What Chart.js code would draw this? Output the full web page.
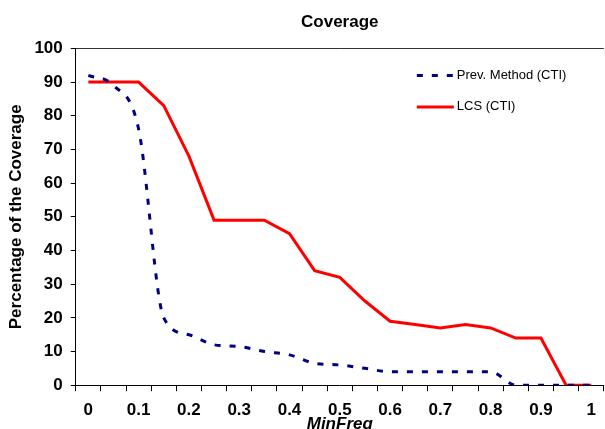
<!DOCTYPE html>
<html>
<head>
<meta charset="utf-8">
<script src="https://cdn.jsdelivr.net/npm/chart.js@4"></script>
<style>
  body { margin: 0; background: #fff; }
  #wrap { width: 605px; height: 429px; }
</style>
</head>
<body>
<div id="wrap"><canvas id="coverageChart" width="605" height="429"></canvas></div>
<script>
// MinFreq steps 0 .. 1 by 0.05
const categories = ["0", "0.05", "0.1", "0.15", "0.2", "0.25", "0.3", "0.35", "0.4", "0.45", "0.5",
  "0.55", "0.6", "0.65", "0.7", "0.75", "0.8", "0.85", "0.9", "0.95", "1"];
const xTickLabels = ["0", "0.1", "0.2", "0.3", "0.4", "0.5", "0.6", "0.7", "0.8", "0.9", "1"];
const prevMethod = [92, 89, 76, 20, 15, 12, 11.5, 10, 9, 6.5, 6, 5, 4, 4, 4, 4, 4, 0, 0, 0, 0];
const lcs = [90, 90, 90, 83, 68, 49, 49, 49, 45, 34, 32, 25, 19, 18, 17, 18, 17, 14, 14, 0, 0];

const FONT = "'Liberation Sans', Arial, sans-serif";

// legend drawn inside the plot, top right
const innerLegend = {
  id: "innerLegend",
  afterDatasetsDraw(chart) {
    const c = chart.ctx;
    const a = chart.chartArea;
    const x0 = a.right - 187;
    const rows = [a.top + 27, a.top + 58.5];
    c.save();
    c.font = "13px " + FONT;
    c.textBaseline = "middle";
    chart.data.datasets.forEach((ds, i) => {
      c.strokeStyle = ds.borderColor;
      c.lineWidth = ds.borderWidth;
      c.setLineDash(ds.borderDash || []);
      c.beginPath();
      c.moveTo(x0, rows[i]);
      c.lineTo(x0 + 37, rows[i]);
      c.stroke();
      c.setLineDash([]);
      c.fillStyle = "#000";
      c.fillText(ds.label, x0 + 40, rows[i]);
    });
    c.restore();
  },
};

const ctx = document.getElementById("coverageChart");
new Chart(ctx, {
  type: "line",
  data: {
    labels: categories,
    datasets: [
      {
        label: "Prev. Method (CTI)",
        data: prevMethod,
        borderColor: "#000080",
        borderWidth: 3,
        borderDash: [6, 9],
        cubicInterpolationMode: "monotone",
        pointRadius: 0,
      },
      {
        label: "LCS (CTI)",
        data: lcs,
        borderColor: "#ff0000",
        borderWidth: 3,
        tension: 0,
        pointRadius: 0,
      },
    ],
  },
  options: {
    responsive: false,
    animation: false,
    layout: { padding: { left: 6, right: 1, top: 0, bottom: -6 } },
    plugins: {
      legend: { display: false },
      tooltip: { enabled: false },
      title: {
        display: true,
        text: "Coverage",
        fullSize: false,
        color: "#000",
        font: { family: FONT, size: 17, weight: "bold" },
        padding: { top: 12, bottom: 16 },
      },
    },
    scales: {
      x: {
        type: "category",
        offset: true,
        grid: {
          offset: true,
          drawOnChartArea: false,
          color: "#000",
          tickColor: "#000",
          tickLength: 6,
        },
        border: { display: true, color: "#000", width: 1 },
        ticks: {
          autoSkip: false,
          maxRotation: 0,
          padding: 9,
          color: "#000",
          font: { family: FONT, size: 17, weight: "bold" },
          callback: (v, i) => (i % 2 === 0 ? xTickLabels[i / 2] : ""),
        },
        title: {
          display: true,
          text: "MinFreq",
          color: "#000",
          font: { family: FONT, size: 17, weight: "bold", style: "italic" },
          padding: { top: -15, bottom: 0 },
        },
      },
      y: {
        min: 0,
        max: 100,
        grid: {
          color: (c) => (c.tick && c.tick.value === 100 ? "#333" : "rgba(0,0,0,0)"),
          tickColor: "#000",
          tickLength: 5,
        },
        border: { display: true, color: "#000", width: 1 },
        ticks: {
          stepSize: 10,
          padding: 8,
          color: "#000",
          font: { family: FONT, size: 17, weight: "bold" },
        },
        title: {
          display: true,
          text: "Percentage of the Coverage",
          color: "#000",
          font: { family: FONT, size: 17, weight: "bold" },
          padding: { top: 0, bottom: 0 },
        },
      },
    },
  },
  plugins: [innerLegend],
});
</script>
</body>
</html>
